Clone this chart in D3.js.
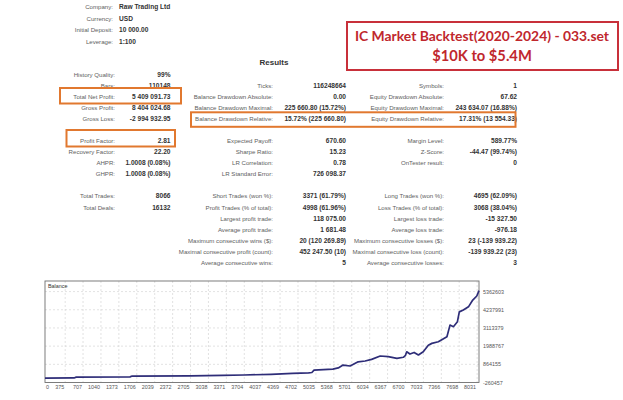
<html>
<head>
<meta charset="UTF-8">
<title>Backtest report</title>
<script src="https://cdn.jsdelivr.net/npm/d3@7"></script>
<style>
  body { margin: 0; background: #fff; }
  svg { display: block; }
  .lbl { font-family: "Liberation Sans", Arial, sans-serif; font-size: 6.1px; fill: #5e5e5e; }
  .val { font-family: "Liberation Sans", Arial, sans-serif; font-size: 6.6px; font-weight: bold; fill: #333; }
  .ax { font-family: "Liberation Sans", Arial, sans-serif; font-size: 5.4px; fill: #555; }
</style>
</head>
<body>
<svg id="chart" width="623" height="400"></svg>
<script>
// header
var infoLabels = ["Company:", "Currency:", "Initial Deposit:", "Leverage:"];
var infoValues = ["Raw Trading Ltd", "USD", "10 000.00", "1:100"];

// results table, one entry per row (blank rows kept as "")
var leftLabels = ["History Quality:", "Bars:", "Total Net Profit:", "Gross Profit:", "Gross Loss:", "",
    "Profit Factor:", "Recovery Factor:", "AHPR:", "GHPR:", "", "Total Trades:", "Total Deals:"];
var leftValues = ["99%", "110148", "5 409 091.73", "8 404 024.68", "-2 994 932.95", "",
    "2.81", "22.20", "1.0008 (0.08%)", "1.0008 (0.08%)", "", "8066", "16132"];
var midLabels = ["", "Ticks:", "Balance Drawdown Absolute:", "Balance Drawdown Maximal:", "Balance Drawdown Relative:", "",
    "Expected Payoff:", "Sharpe Ratio:", "LR Correlation:", "LR Standard Error:", "",
    "Short Trades (won %):", "Profit Trades (% of total):", "Largest profit trade:", "Average profit trade:",
    "Maximum consecutive wins ($):", "Maximal consecutive profit (count):", "Average consecutive wins:"];
var midValues = ["", "116248664", "0.00", "225 660.80 (15.72%)", "15.72% (225 660.80)", "",
    "670.60", "15.23", "0.78", "726 098.37", "",
    "3371 (61.79%)", "4998 (61.96%)", "118 075.00", "1 681.48",
    "20 (120 269.89)", "452 247.50 (10)", "5"];
var rightLabels = ["", "Symbols:", "Equity Drawdown Absolute:", "Equity Drawdown Maximal:", "Equity Drawdown Relative:", "",
    "Margin Level:", "Z-Score:", "OnTester result:", "", "",
    "Long Trades (won %):", "Loss Trades (% of total):", "Largest loss trade:", "Average loss trade:",
    "Maximum consecutive losses ($):", "Maximal consecutive loss (count):", "Average consecutive losses:"];
var rightValues = ["", "1", "67.62", "243 634.07 (16.88%)", "17.31% (13 554.33)", "",
    "589.77%", "-44.47 (99.74%)", "0", "", "",
    "4695 (62.09%)", "3068 (38.04%)", "-15 327.50", "-976.18",
    "23 (-139 939.22)", "-139 939.22 (23)", "3"];

var titleLines = ["IC Market Backtest(2020-2024) - 033.set", "$10K to $5.4M"];

// balance curve (trade number, balance)
var trades  = [0, 540, 580, 1580, 1620, 2700, 3300, 3700, 4200, 4600, 4900, 4960, 5000,
    5350, 5450, 5540, 5670, 5820, 5950, 6070, 6230, 6380, 6540, 6660, 6700, 6722, 6783,
    6860, 6940, 7030, 7124, 7190, 7310, 7470, 7527, 7590, 7665, 7700, 7775, 7870, 7950, 8025, 8066];
var balance = [10000, 22000, 70000, 88000, 140000, 150000, 175000, 205000, 245000, 300000, 335000, 360000, 500000,
    570000, 640000, 820000, 760000, 1020000, 1070000, 1170000, 1380000, 1335000, 1235000, 1300000, 1420000, 1640000, 1500000,
    1600000, 1440000, 1640000, 2050000, 2160000, 2260000, 2570000, 3290000, 3190000, 3500000, 4110000, 4220000, 4420000, 4840000, 5090000, 5419092];

var yTicks = [-260457, 864155, 1988767, 3113379, 4237991, 5362603];
var xTicks = [0, 375, 707, 1040, 1373, 1706, 2039, 2372, 2705, 3038, 3371, 3704, 4037,
    4369, 4702, 5035, 5368, 5701, 6034, 6367, 6700, 7033, 7366, 7698, 8031];

var svg = d3.select("#chart");

// header block
var head = svg.append("g");
head.selectAll("text.hl").data(infoLabels).enter().append("text")
    .attr("class", "lbl").attr("x", 113).attr("y", function (d, i) { return 9 + i * 11.5; })
    .attr("text-anchor", "end").text(function (d) { return d; });
head.selectAll("text.hv").data(infoValues).enter().append("text")
    .attr("class", "val").attr("x", 119).attr("y", function (d, i) { return 9 + i * 11.5; })
    .text(function (d) { return d; });

svg.append("text").attr("x", 274).attr("y", 65).attr("text-anchor", "middle")
    .style("font-family", "Liberation Sans, Arial, sans-serif").style("font-size", "8px")
    .style("font-weight", "bold").style("fill", "#333").text("Results");

// the three columns of the table
var rowY = function (i) { return 76.6 + i * 11.08; };
function column(labels, values, lx, vx) {
    var g = svg.append("g");
    g.selectAll("text.l").data(labels).enter().append("text")
        .attr("class", "lbl").attr("x", lx).attr("y", function (d, i) { return rowY(i); })
        .attr("text-anchor", "end").text(function (d) { return d; });
    g.selectAll("text.v").data(values).enter().append("text")
        .attr("class", "val").attr("x", vx).attr("y", function (d, i) { return rowY(i); })
        .attr("text-anchor", "end").text(function (d) { return d; });
}
column(leftLabels, leftValues, 115, 170.5);
column(midLabels, midValues, 273, 346);
column(rightLabels, rightValues, 444, 517);

// orange highlight boxes
var orange = "#e1782f";
[[60, 88, 121, 15.5], [66.5, 130, 108.5, 16.5], [191, 112.3, 324.5, 14.5]].forEach(function (b) {
    svg.append("rect").attr("x", b[0]).attr("y", b[1]).attr("width", b[2]).attr("height", b[3])
        .attr("fill", "none").attr("stroke", orange).attr("stroke-width", 2);
});

// red title box
svg.append("rect").attr("x", 347).attr("y", 22).attr("width", 271).attr("height", 48)
    .attr("fill", "#fff").attr("stroke", "#c8303a").attr("stroke-width", 2);
svg.selectAll("text.title").data(titleLines).enter().append("text")
    .attr("class", "title").attr("x", 482).attr("y", function (d, i) { return 41 + i * 19.5; })
    .attr("text-anchor", "middle")
    .style("font-family", "Lato, 'Open Sans', sans-serif")
    .style("font-size", function (d, i) { return i == 0 ? "13.9px" : "14.7px"; })
    .style("font-weight", "bold").style("fill", "#c0272d")
    .text(function (d) { return d; });

// balance chart
var L = 45, R = 479, T = 281, B = 382.5;
var x = d3.scaleLinear().domain([0, 8066]).range([L, R]);
var y = d3.scaleLinear().domain([-260457, 5362603]).range([B, 291.6]);

var grid = svg.append("g").attr("stroke", "#cfcfcf").attr("stroke-dasharray", "2,2").attr("stroke-width", 0.6);
grid.selectAll("line.gx").data(xTicks.slice(1)).enter().append("line")
    .attr("x1", function (d) { return x(d); }).attr("x2", function (d) { return x(d); })
    .attr("y1", T).attr("y2", B);
grid.selectAll("line.gy").data(yTicks.slice(1)).enter().append("line")
    .attr("x1", L).attr("x2", R)
    .attr("y1", function (d) { return y(d); }).attr("y2", function (d) { return y(d); });

svg.append("rect").attr("x", L).attr("y", T).attr("width", R - L).attr("height", B - T)
    .attr("fill", "none").attr("stroke", "#6f6f6f").attr("stroke-width", 0.9);

svg.append("text").attr("class", "ax").attr("x", L + 3).attr("y", T + 7).style("fill", "#333").text("Balance");

var pts = trades.map(function (t, i) { return [t, balance[i]]; });
svg.append("path").datum(pts)
    .attr("fill", "none").attr("stroke", "#2e2d78").attr("stroke-width", 1.7).attr("stroke-linejoin", "round")
    .attr("d", d3.line().x(function (d) { return x(d[0]); }).y(function (d) { return y(d[1]); }));

svg.selectAll("text.xt").data(xTicks).enter().append("text")
    .attr("class", "ax").attr("y", 388.5)
    .attr("x", function (d, i) { return i == 0 ? L + 1 : x(d) - 1; })
    .attr("text-anchor", function (d, i) { return i == 0 ? "start" : "end"; })
    .text(function (d) { return d; });
svg.selectAll("text.yt").data(yTicks).enter().append("text")
    .attr("class", "ax").attr("x", 483).attr("y", function (d) { return y(d) + 2; })
    .text(function (d) { return d; });
</script>
</body>
</html>
